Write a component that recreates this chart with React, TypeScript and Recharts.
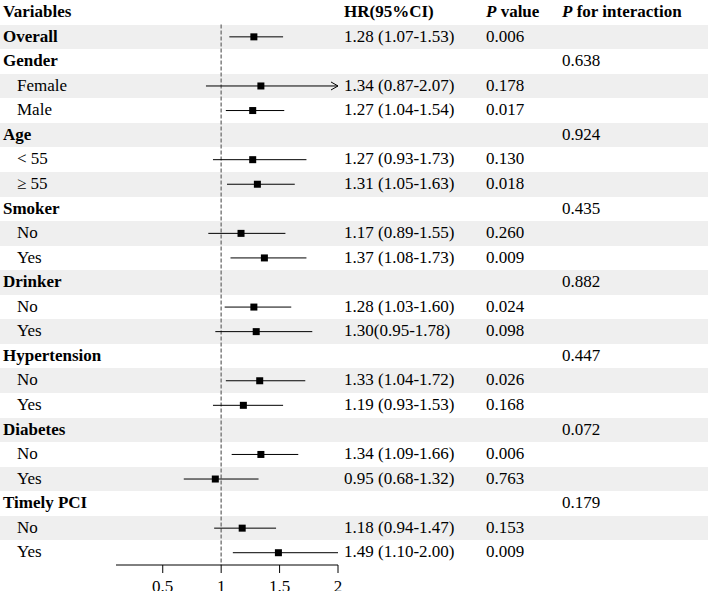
import React from 'react';
import { ScatterChart, Scatter, XAxis, YAxis, ReferenceLine } from 'recharts';

const labels = ['Overall', 'Gender', 'Female', 'Male', 'Age', '< 55', '≥ 55', 'Smoker', 'No', 'Yes', 'Drinker', 'No', 'Yes', 'Hypertension', 'No', 'Yes', 'Diabetes', 'No', 'Yes', 'Timely PCI', 'No', 'Yes'];
const boldRows = [true, true, false, false, true, false, false, true, false, false, true, false, false, true, false, false, true, false, false, true, false, false];
const hr = [1.28, null, 1.34, 1.27, null, 1.27, 1.31, null, 1.17, 1.37, null, 1.28, 1.30, null, 1.33, 1.19, null, 1.34, 0.95, null, 1.18, 1.49];
const lower = [1.07, null, 0.87, 1.04, null, 0.93, 1.05, null, 0.89, 1.08, null, 1.03, 0.95, null, 1.04, 0.93, null, 1.09, 0.68, null, 0.94, 1.10];
const upper = [1.53, null, 2.07, 1.54, null, 1.73, 1.63, null, 1.55, 1.73, null, 1.60, 1.78, null, 1.72, 1.53, null, 1.66, 1.32, null, 1.47, 2.00];
const hrText = ['1.28 (1.07-1.53)', '', '1.34 (0.87-2.07)', '1.27 (1.04-1.54)', '', '1.27 (0.93-1.73)', '1.31 (1.05-1.63)', '', '1.17 (0.89-1.55)', '1.37 (1.08-1.73)', '', '1.28 (1.03-1.60)', '1.30(0.95-1.78)', '', '1.33 (1.04-1.72)', '1.19 (0.93-1.53)', '', '1.34 (1.09-1.66)', '0.95 (0.68-1.32)', '', '1.18 (0.94-1.47)', '1.49 (1.10-2.00)'];
const pValues = ['0.006', '', '0.178', '0.017', '', '0.130', '0.018', '', '0.260', '0.009', '', '0.024', '0.098', '', '0.026', '0.168', '', '0.006', '0.763', '', '0.153', '0.009'];
const pInteraction = ['', '0.638', '', '', '0.924', '', '', '0.435', '', '', '0.882', '', '', '0.447', '', '', '0.072', '', '', '0.179', '', ''];
const xTicks = [0.5, 1, 1.5, 2];

const X_MIN = 0.1;
const X_MAX = 2;
const W = 708;
const H = 591;
const PLOT_H = 565;
const NROWS = labels.length + 1;
const ROW_H = PLOT_H / NROWS;
const FONT = '"Liberation Serif", Tinos, "Times New Roman", "DejaVu Serif", serif';
const FS = 17;
const COL_HR = 344;
const COL_P = 486;
const COL_PI = 562;

const points = hr
  .map((v, i) => (v == null ? null : { hr: v, row: i + 1.5 }))
  .filter(Boolean) as { hr: number; row: number }[];
const arrows = upper
  .map((v, i) => (v != null && v > X_MAX ? { hr: X_MAX, row: i + 1.5 } : null))
  .filter(Boolean) as { hr: number; row: number }[];

const Square = (props: any) => {
  const { cx, cy } = props;
  if (cx == null || cy == null) return null;
  return <rect x={cx - 3.5} y={cy - 3.5} width={7} height={7} fill="#000" />;
};

const ArrowHead = (props: any) => {
  const { cx, cy } = props;
  if (cx == null || cy == null) return null;
  return <path d={`M${cx - 7},${cy - 4} L${cx},${cy} L${cx - 7},${cy + 4}`} fill="none" stroke="#000" strokeWidth={1} />;
};

const Tick = (props: any) => {
  const { x, payload } = props;
  return (
    <text x={x} y={PLOT_H + 27} textAnchor="middle" fontFamily={FONT} fontSize={FS} fill="#000">
      {payload.value}
    </text>
  );
};

const cellStyle = (i: number, x: number, bold = false): React.CSSProperties => ({
  position: 'absolute',
  left: x,
  top: i * ROW_H,
  height: ROW_H,
  lineHeight: `${ROW_H}px`,
  fontFamily: FONT,
  fontSize: FS,
  fontWeight: bold ? 'bold' : 'normal',
  color: '#000',
  whiteSpace: 'nowrap',
});

export default function App() {
  return (
    <div style={{ position: 'absolute', left: 0, top: 0, width: W, height: H, background: '#fff', overflow: 'hidden', fontFamily: FONT }}>
      {labels.map((_, i) =>
        i % 2 === 0 ? (
          <div key={`s${i}`} style={{ position: 'absolute', left: 0, top: (i + 1) * ROW_H, width: W, height: ROW_H, background: '#efefef' }} />
        ) : null
      )}
      <div style={{ position: 'absolute', left: 0, top: 0 }}>
        <ScatterChart width={W} height={H} margin={{ top: 0, right: W - 338, bottom: 0, left: 116 }}>
          <XAxis
            type="number"
            dataKey="hr"
            domain={[X_MIN, X_MAX]}
            ticks={xTicks}
            height={H - PLOT_H}
            tickSize={8}
            axisLine={{ stroke: '#000' }}
            tickLine={{ stroke: '#000' }}
            tick={Tick}
            interval={0}
          />
          <YAxis type="number" dataKey="row" domain={[0, NROWS]} reversed hide />
          <ReferenceLine segment={[{ x: 1, y: 1 }, { x: 1, y: NROWS }]} stroke="#808080" strokeWidth={1.5} strokeDasharray="4 2" />
          {lower.map((lo, i) =>
            lo == null ? null : (
              <ReferenceLine
                key={`ci${i}`}
                segment={[{ x: lo, y: i + 1.5 }, { x: Math.min(upper[i] as number, X_MAX), y: i + 1.5 }]}
                stroke="#000"
                strokeWidth={1}
              />
            )
          )}
          <Scatter data={points} shape={Square} isAnimationActive={false} />
          <Scatter data={arrows} shape={ArrowHead} isAnimationActive={false} />
        </ScatterChart>
      </div>
      <div style={cellStyle(0, 3, true)}>Variables</div>
      <div style={cellStyle(0, COL_HR, true)}>HR(95%CI)</div>
      <div style={cellStyle(0, COL_P, true)}><i>P</i> value</div>
      <div style={cellStyle(0, COL_PI, true)}><i>P</i> for interaction</div>
      {labels.map((l, i) => (
        <React.Fragment key={`r${i}`}>
          <div style={cellStyle(i + 1, boldRows[i] ? 3 : 17, boldRows[i])}>{l}</div>
          {hrText[i] ? <div style={cellStyle(i + 1, COL_HR)}>{hrText[i]}</div> : null}
          {pValues[i] ? <div style={cellStyle(i + 1, COL_P)}>{pValues[i]}</div> : null}
          {pInteraction[i] ? <div style={cellStyle(i + 1, COL_PI)}>{pInteraction[i]}</div> : null}
        </React.Fragment>
      ))}
    </div>
  );
}
